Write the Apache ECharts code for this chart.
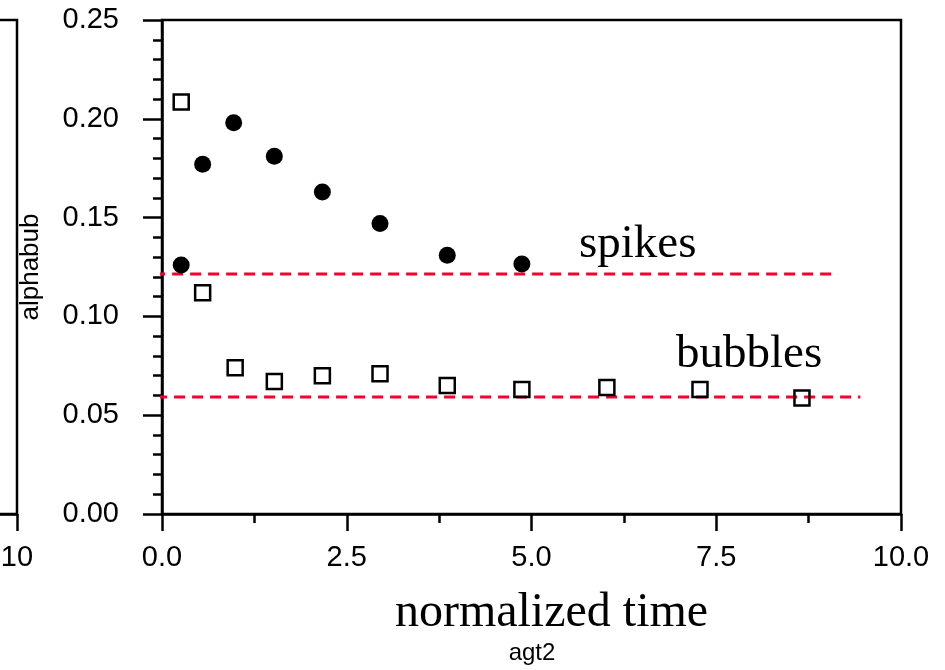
<!DOCTYPE html>
<html>
<head>
<meta charset="utf-8">
<script src="https://cdn.jsdelivr.net/npm/echarts@6/dist/echarts.min.js"></script>
<style>
  html, body { margin: 0; padding: 0; background: #fff; }
  #main { width: 945px; height: 670px; }
</style>
</head>
<body>
<div id="main"></div>
<script>
// spikes (filled circles)
var spikeTime = [0.26, 0.55, 0.97, 1.52, 2.17, 2.95, 3.86, 4.87];
var spikeAlpha = [0.126, 0.177, 0.198, 0.181, 0.163, 0.147, 0.131, 0.1265];

// bubbles (open squares)
var bubbleTime = [0.26, 0.55, 0.99, 1.52, 2.17, 2.95, 3.86, 4.87, 6.02, 7.28, 8.66];
var bubbleAlpha = [0.2085, 0.112, 0.074, 0.067, 0.070, 0.071, 0.065, 0.063, 0.064, 0.063, 0.0587];

// red dashed reference levels
var spikeLevel = 0.1215;
var spikeLevelRange = [-0.35, 9.15];
var bubbleLevel = 0.0592;
var bubbleLevelRange = [-0.08, 9.45];

var xTicks = [0, 2.5, 5, 7.5, 10];
var yTicks = [0, 0.05, 0.10, 0.15, 0.20, 0.25];

var chartDom = document.getElementById('main');
var myChart = echarts.init(chartDom, null, { renderer: 'canvas' });

function pairs(xs, ys) {
  return xs.map(function (x, i) { return [x, ys[i]]; });
}

var sans = 'Liberation Sans, Arial, sans-serif';
var serif = 'Liberation Serif, Times New Roman, serif';
var red = '#f5002f';

var option = {
  backgroundColor: '#fff',
  animation: false,
  title: {
    text: 'agt2',
    left: 527,
    textAlign: 'center',
    top: 636,
    textStyle: { fontFamily: sans, fontSize: 24, fontWeight: 'normal', color: '#000' }
  },
  grid: [
    {
      // edge of the neighbouring panel on the left
      left: -300, width: 317, top: 20, bottom: 156,
      outerBoundsMode: 'none', containLabel: false,
      show: true, borderColor: '#000', borderWidth: 2.5
    },
    {
      left: 162, right: 44, top: 20, bottom: 156,
      outerBoundsMode: 'none', containLabel: false,
      show: true, borderColor: '#000', borderWidth: 2.5
    }
  ],
  xAxis: [
    {
      gridIndex: 0, type: 'value', min: 0, max: 10, interval: 10,
      axisLine: { lineStyle: { color: '#000', width: 2.5 } },
      axisTick: { length: 17, lineStyle: { color: '#000', width: 2.5 } },
      axisLabel: { fontFamily: sans, fontSize: 29, color: '#000', margin: 29 },
      splitLine: { show: false }
    },
    {
      gridIndex: 1, type: 'value', min: xTicks[0], max: xTicks[xTicks.length - 1], interval: 2.5,
      name: 'normalized time', nameLocation: 'middle', nameGap: 75,
      nameTextStyle: { fontFamily: serif, fontSize: 48, color: '#000', padding: [0, 0, 0, 40] },
      axisLine: { onZero: false, lineStyle: { color: '#000', width: 2.5 } },
      axisTick: { length: 17, lineStyle: { color: '#000', width: 2.5 } },
      minorTick: { show: true, splitNumber: 2, length: 9, lineStyle: { color: '#000', width: 2.5 } },
      axisLabel: {
        fontFamily: sans, fontSize: 29, color: '#000', margin: 29,
        formatter: function (v) { return v.toFixed(1); }
      },
      splitLine: { show: false }
    }
  ],
  yAxis: [
    {
      gridIndex: 0, type: 'value', min: 0, max: 0.25, interval: 0.05,
      axisLine: { show: false }, axisTick: { show: false }, axisLabel: { show: false },
      splitLine: { show: false }
    },
    {
      gridIndex: 1, type: 'value', min: yTicks[0], max: yTicks[yTicks.length - 1], interval: 0.05,
      name: 'alphabub', nameLocation: 'middle', nameGap: 118, nameRotate: 90,
      nameTextStyle: { fontFamily: sans, fontSize: 26, color: '#000' },
      axisLine: { onZero: false, lineStyle: { color: '#000', width: 2.5 } },
      axisTick: { length: 19, lineStyle: { color: '#000', width: 2.5 } },
      minorTick: { show: true, splitNumber: 5, length: 9, lineStyle: { color: '#000', width: 2.5 } },
      axisLabel: {
        fontFamily: sans, fontSize: 29, color: '#000', margin: 43,
        formatter: function (v) { return v.toFixed(2); }
      },
      splitLine: { show: false }
    }
  ],
  series: [
    {
      name: 'spike level', type: 'line', xAxisIndex: 1, yAxisIndex: 1,
      clip: false, symbol: 'none', silent: true, z: 1,
      lineStyle: { color: red, width: 3, type: [11, 7] },
      data: [[spikeLevelRange[0], spikeLevel], [spikeLevelRange[1], spikeLevel]]
    },
    {
      name: 'bubble level', type: 'line', xAxisIndex: 1, yAxisIndex: 1,
      clip: false, symbol: 'none', silent: true, z: 1,
      lineStyle: { color: red, width: 3, type: [11, 7] },
      data: [[bubbleLevelRange[0], bubbleLevel], [bubbleLevelRange[1], bubbleLevel]]
    },
    {
      name: 'spikes', type: 'scatter', xAxisIndex: 1, yAxisIndex: 1, z: 3,
      symbol: 'circle', symbolSize: 17,
      itemStyle: { color: '#000', opacity: 1 },
      data: pairs(spikeTime, spikeAlpha)
    },
    {
      name: 'bubbles', type: 'scatter', xAxisIndex: 1, yAxisIndex: 1, z: 3,
      symbol: 'rect', symbolSize: 15,
      itemStyle: { color: 'rgba(255,255,255,0)', borderColor: '#000', borderWidth: 2.5, opacity: 1 },
      data: pairs(bubbleTime, bubbleAlpha)
    }
  ],
  graphic: [
    {
      type: 'text', left: 579, top: 221,
      style: { text: 'spikes', fontFamily: serif, fontSize: 47, fill: '#000' }
    },
    {
      type: 'text', left: 676, top: 331,
      style: { text: 'bubbles', fontFamily: serif, fontSize: 47, fill: '#000' }
    }
  ]
};

option && myChart.setOption(option);
</script>
</body>
</html>
